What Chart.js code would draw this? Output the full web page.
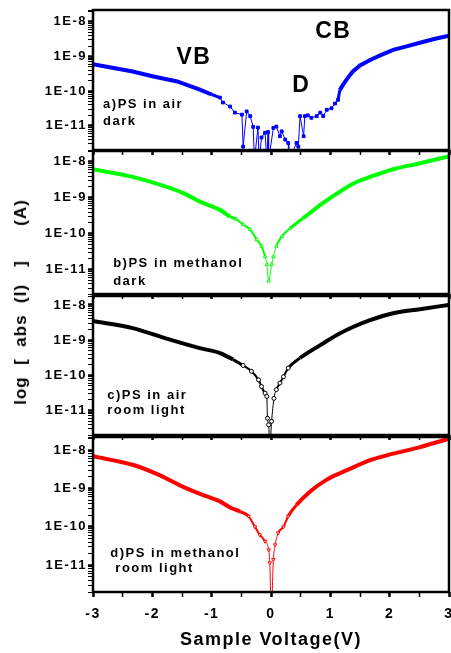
<!DOCTYPE html>
<html>
<head>
<meta charset="utf-8">
<title>log abs(I) vs sample voltage</title>
<script src="https://cdn.jsdelivr.net/npm/chart.js@4.4.0/dist/chart.umd.min.js"></script>
<style>
  html, body { margin: 0; padding: 0; background: #fff; }
  #page { position: relative; width: 451px; height: 653px; overflow: hidden; }
  #page canvas { position: absolute; left: 0; }
  #yTitle {
    position: absolute; left: 21px; top: 302px;
    transform: translate(-50%, -50%) rotate(-90deg);
    font: bold 17px "Liberation Sans", Arial, sans-serif;
    letter-spacing: 1px; white-space: pre; color: #000;
  }
</style>
</head>
<body>
<div id="page">
  <canvas id="panelA" width="451" height="155" style="top:0px"></canvas>
  <canvas id="panelB" width="451" height="158" style="top:141px"></canvas>
  <canvas id="panelC" width="451" height="154" style="top:286px"></canvas>
  <canvas id="panelD" width="451" height="226" style="top:427px"></canvas>
  <div id="yTitle">log  [  abs  (I)   ]      (A)</div>
</div>
<script>
// a) PS in air, dark
const voltsA = [-3.0, -2.7, -2.33, -2.0, -1.58, -1.2, -1.0, -0.86, -0.81, -0.69, -0.61, -0.49, -0.47, -0.41,
  -0.35, -0.30, -0.28, -0.22, -0.20, -0.16, -0.10, -0.07, -0.05, -0.04, 0.04, 0.09, 0.15, 0.18, 0.24, 0.29,
  0.30, 0.43, 0.46, 0.49, 0.55, 0.57, 0.62, 0.68, 0.77, 0.83, 0.88, 0.94, 1.02, 1.08, 1.13, 1.16, 1.21,
  1.30, 1.38, 1.50, 1.67, 1.85, 2.06, 2.30, 2.51, 2.75, 3.0];
const ampsA = [6.0e-10, 4.8e-10, 3.7e-10, 2.7e-10, 1.9e-10, 1.1e-10, 8.0e-11, 6.5e-11, 4.7e-11, 3.6e-11, 2.4e-11,
  2.1e-11, 2.5e-12, 2.6e-11, 1.9e-11, 9.3e-12, 1.0e-12, 8.9e-12, 1.0e-12, 4.6e-12, 6.3e-12, 1.0e-12, 6.6e-12,
  1.0e-12, 8.7e-12, 9.5e-12, 5.0e-12, 6.9e-12, 4.0e-12, 3.2e-12, 1.0e-12, 3.2e-12, 2.5e-12, 1.9e-11, 5.0e-12,
  1.9e-11, 2.0e-11, 1.7e-11, 1.9e-11, 2.4e-11, 1.9e-11, 2.9e-11, 3.2e-11, 4.4e-11, 5.6e-11, 1.07e-10, 1.5e-10,
  2.5e-10, 3.7e-10, 5.5e-10, 7.9e-10, 1.1e-9, 1.55e-9, 2.0e-9, 2.5e-9, 3.2e-9, 4.0e-9];

// b) PS in methanol, dark
const voltsB = [-3.0, -2.33, -1.76, -1.48, -1.2, -0.86, -0.69, -0.58, -0.47, -0.35, -0.24, -0.16, -0.10, -0.07,
  -0.04, 0.01, 0.04, 0.09, 0.18, 0.32, 0.54, 0.66, 0.83, 1.11, 1.39, 1.67, 2.06, 2.51, 2.99];
const ampsB = [6.2e-9, 3.8e-9, 2.0e-9, 1.35e-9, 7.8e-10, 4.6e-10, 3.0e-10, 2.5e-10, 1.8e-10, 1.3e-10, 6.8e-11,
  4.5e-11, 2.3e-11, 1.4e-11, 4.8e-12, 1.4e-11, 2.3e-11, 4.5e-11, 8.3e-11, 1.4e-10, 2.7e-10, 3.8e-10, 6.3e-10,
  1.3e-9, 2.5e-9, 3.8e-9, 6.2e-9, 9.1e-9, 1.4e-8];

// c) PS in air, room light
const voltsC = [-3.0, -2.33, -1.76, -1.2, -0.86, -0.64, -0.47, -0.33, -0.21, -0.16, -0.10, -0.07, -0.06, -0.04,
  -0.02, 0.01, 0.05, 0.09, 0.15, 0.21, 0.29, 0.49, 0.83, 1.11, 1.39, 1.67, 2.06, 2.51, 2.99];
const ampsC = [3.5e-9, 2.2e-9, 1.1e-9, 5.9e-10, 4.3e-10, 2.8e-10, 1.9e-10, 1.3e-10, 7.4e-11, 4.8e-11, 3.1e-11,
  2.5e-11, 6.0e-12, 3.9e-12, 1.0e-12, 4.9e-12, 2.2e-11, 3.9e-11, 6.0e-11, 9.1e-11, 1.6e-10, 3.1e-10, 7.2e-10,
  1.4e-9, 2.4e-9, 3.7e-9, 5.8e-9, 7.6e-9, 1.0e-8];

// d) PS in methanol, room light
const voltsD = [-3.0, -2.32, -1.87, -1.48, -1.08, -0.86, -0.69, -0.52, -0.38, -0.27, -0.19, -0.10, -0.04, -0.02,
  0.0, 0.01, 0.04, 0.07, 0.12, 0.21, 0.29, 0.43, 0.66, 0.94, 1.28, 1.67, 2.06, 2.51, 3.0];
const ampsD = [6.9e-9, 4.1e-9, 2.2e-9, 1.1e-9, 6.2e-10, 4.6e-10, 3.2e-10, 2.5e-10, 1.9e-10, 1.0e-10, 6.2e-11,
  4.2e-11, 2.5e-11, 1.15e-11, 1.0e-12, 1.0e-12, 1.4e-11, 3.4e-11, 6.9e-11, 1.0e-10, 1.9e-10, 3.7e-10, 8.3e-10,
  1.7e-9, 3.0e-9, 5.5e-9, 8.1e-9, 1.2e-8, 2.0e-8];

const panelLabels = [
  ['a)PS in air', 'dark'],
  ['b)PS in methanol', 'dark'],
  ['c)PS in air', 'room light'],
  ['d)PS in methanol', ' room light']
];
const bandLabels = ['VB', 'CB', 'D'];
const xTitle = 'Sample Voltage(V)';
const X_MIN = -3, X_MAX = 3;

const FONT = '"Liberation Sans", Arial, sans-serif';
const SPACING = '1.5px';

// thin: bias range drawn with a hairline, mid: range where markers show and the trace narrows
const panels = [
  { id: 'panelA', volts: voltsA, amps: ampsA, color: '#0000ff', point: 'rect', fill: '#0000ff', rot: 0,
    yMin: 2e-12, yMax: 2.2e-8, thin: [-0.9, 1.15], mid: [-0.9, 1.15], smooth: false,
    label: { x: -2.83, y: 3.3e-11, gap: 17 },
    bands: [[-1.3, 9e-10], [1.05, 5.1e-9], [0.51, 1.45e-10]] },
  { id: 'panelB', volts: voltsB, amps: ampsB, color: '#00ff00', point: 'triangle', fill: '#fff', rot: 0,
    yMin: 2.1e-12, yMax: 2.0e-8, thin: [-0.12, 0.12], mid: [-0.6, 0.4], smooth: true,
    label: { x: -2.66, y: 1.2e-11, gap: 18 } },
  { id: 'panelC', volts: voltsC, amps: ampsC, color: '#000000', point: 'circle', fill: '#fff', rot: 0,
    yMin: 2e-12, yMax: 1.8e-8, thin: [-0.12, 0.12], mid: [-0.5, 0.3], smooth: true,
    label: { x: -2.76, y: 2.1e-11, gap: 15 } },
  { id: 'panelD', volts: voltsD, amps: ampsD, color: '#ff0000', point: 'triangle', fill: '#fff', rot: 180,
    yMin: 2e-12, yMax: 2.2e-8, thin: [-0.12, 0.12], mid: [-0.45, 0.35], smooth: true,
    label: { x: -2.71, y: 1.6e-11, gap: 15 } }
];

// canvas letter spacing gets reset with the canvas size, so set it before measuring and drawing
const spacingPlugin = {
  id: 'spacing',
  beforeLayout(chart) { chart.ctx.letterSpacing = SPACING; },
  beforeDraw(chart) { chart.ctx.letterSpacing = SPACING; }
};

// closed box round each plot area
const framePlugin = {
  id: 'frame',
  afterDatasetsDraw(chart) {
    const { ctx, chartArea: a } = chart;
    ctx.save();
    ctx.strokeStyle = '#000';
    ctx.lineWidth = 2.5;
    ctx.strokeRect(a.left, a.top, a.right - a.left, a.bottom - a.top);
    ctx.restore();
  }
};

// panel caption and band names, placed in data coordinates
const notesPlugin = {
  id: 'notes',
  afterDraw(chart, args, opts) {
    const { ctx, scales } = chart;
    const p = opts.panel;
    ctx.save();
    ctx.letterSpacing = SPACING;
    ctx.fillStyle = '#000';
    ctx.font = 'bold 13px ' + FONT;
    ctx.textAlign = 'left';
    ctx.textBaseline = 'alphabetic';
    const lx = scales.x.getPixelForValue(p.label.x);
    const ly = scales.y.getPixelForValue(p.label.y);
    opts.lines.forEach((line, k) => ctx.fillText(line, lx, ly + k * p.label.gap));
    if (p.bands) {
      ctx.font = 'bold 23px ' + FONT;
      ctx.textAlign = 'center';
      ctx.textBaseline = 'middle';
      p.bands.forEach(([bx, by], k) => {
        ctx.fillText(bandLabels[k], scales.x.getPixelForValue(bx), scales.y.getPixelForValue(by));
      });
    }
    ctx.restore();
  }
};

const isDecade = (v) => {
  const e = Math.log10(v);
  return Math.abs(e - Math.round(e)) < 1e-6;
};

function makePanel(p, idx) {
  const last = idx === panels.length - 1;
  const within = (v, r) => v >= r[0] && v <= r[1];
  const segWidth = (v0, v1) => {
    if (within(v0, p.thin) && within(v1, p.thin)) return 1;
    if (within(v0, p.mid) && within(v1, p.mid)) return 2;
    if (within(v0, p.mid) || within(v1, p.mid)) return 3;
    return 4;
  };

  new Chart(document.getElementById(p.id), {
    type: 'line',
    data: {
      datasets: [{
        data: p.volts.map((v, k) => ({ x: v, y: p.amps[k] })),
        borderColor: p.color,
        borderWidth: 4,
        pointStyle: p.point,
        pointRotation: p.rot,
        // markers only show where the trace spreads out near zero bias
        pointRadius: (ctx) => (within(p.volts[ctx.dataIndex], p.mid) ? 2 : 0),
        pointBorderWidth: 1,
        pointBorderColor: p.color,
        pointBackgroundColor: p.fill,
        tension: 0,
        cubicInterpolationMode: p.smooth ? 'monotone' : 'default',
        clip: 0,
        segment: {
          borderWidth: (ctx) => segWidth(p.volts[ctx.p0DataIndex], p.volts[ctx.p1DataIndex])
        }
      }]
    },
    options: {
      responsive: false,
      animation: false,
      events: [],
      layout: { padding: { top: 10, right: 2, bottom: 0, left: 0 } },
      scales: {
        x: {
          type: 'linear',
          min: X_MIN,
          max: X_MAX,
          border: { display: false },
          grid: {
            drawOnChartArea: false,
            tickLength: 5,
            color: '#000',
            tickWidth: (ctx) => (ctx.tick && Number.isInteger(ctx.tick.value) ? 2.5 : 1.5)
          },
          ticks: {
            display: last,
            stepSize: 0.5,
            autoSkip: false,
            maxRotation: 0,
            padding: 9,
            color: '#000',
            font: { family: FONT, size: 14, weight: 'bold' },
            callback: (v) => (Number.isInteger(v) ? String(v) : '')
          },
          title: {
            display: last,
            text: xTitle,
            color: '#000',
            font: { family: FONT, size: 18, weight: 'bold' },
            padding: { top: 0, bottom: 2 }
          },
          afterFit: (s) => {
            s.paddingLeft = 0;
            s.paddingRight = 0;
            s.height = last ? 61 : 5;
          }
        },
        y: {
          type: 'logarithmic',
          min: p.yMin,
          max: p.yMax,
          border: { display: false },
          grid: {
            drawOnChartArea: false,
            tickLength: 5,
            color: '#000',
            tickWidth: (ctx) => (ctx.tick && isDecade(ctx.tick.value) ? 2.5 : 1)
          },
          ticks: {
            autoSkip: false,
            padding: 1,
            color: '#000',
            font: { family: FONT, size: 13, weight: 'bold' },
            callback: (v) => (isDecade(v) ? '1E' + Math.round(Math.log10(v)) : '')
          },
          // keep only 1..9 per decade
          afterBuildTicks: (s) => {
            s.ticks = s.ticks.filter((t) => {
              const m = t.value / Math.pow(10, Math.floor(Math.log10(t.value) + 1e-9));
              return Math.abs(m - 1.5) > 0.01;
            });
          },
          afterFit: (s) => {
            s.width = 93;
            s.paddingTop = 0;
            s.paddingBottom = 0;
          }
        }
      },
      plugins: {
        legend: { display: false },
        tooltip: { enabled: false },
        notes: { panel: p, lines: panelLabels[idx] }
      }
    },
    plugins: [spacingPlugin, framePlugin, notesPlugin]
  });
}

panels.forEach(makePanel);
</script>
</body>
</html>
